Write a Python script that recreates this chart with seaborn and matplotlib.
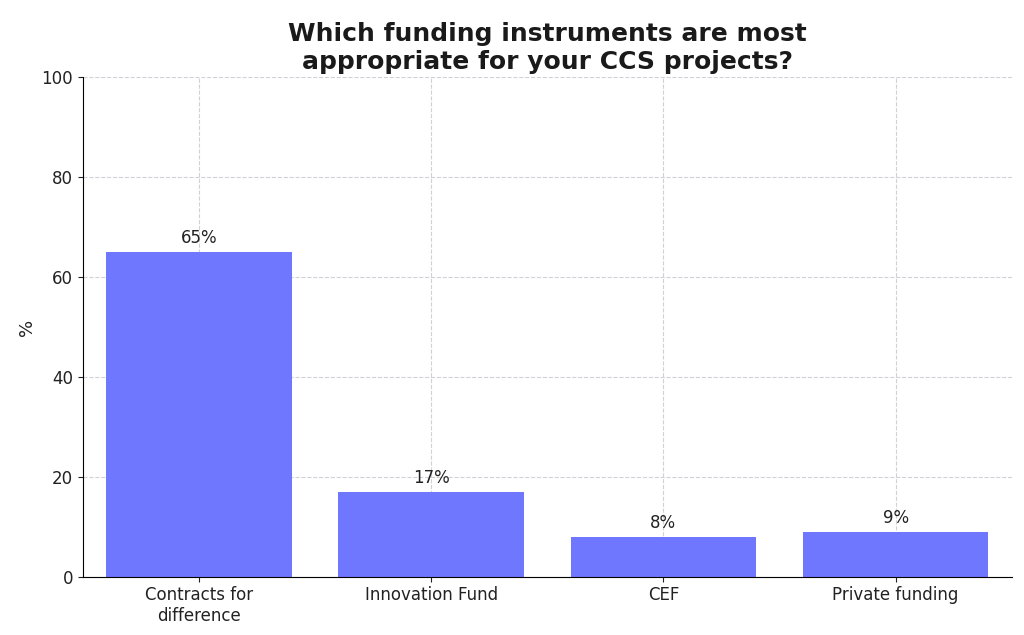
import matplotlib
matplotlib.use("Agg")
import matplotlib.pyplot as plt
import seaborn as sns
import pandas as pd

# data
categories = ["Contracts for\ndifference", "Innovation Fund", "CEF", "Private funding"]
values = [65, 17, 8, 9]
labels = ["65%", "17%", "8%", "9%"]

df = pd.DataFrame({"category": categories, "value": values})

fig = plt.figure(figsize=(10.24, 6.35), dpi=100)
ax = fig.add_axes([0.081, 0.092, 0.907, 0.786])

sns.barplot(data=df, x="category", y="value", color="#7077FF", saturation=1,
            width=0.8, ax=ax, zorder=2)

for p, lab in zip(ax.patches, labels):
    ax.text(p.get_x() + p.get_width() / 2, p.get_height() + 1, lab,
            ha="center", va="bottom", fontsize=12, color="#222222")

ax.set_ylim(0, 100)
ax.set_yticks([0, 20, 40, 60, 80, 100])
ax.set_xlabel("")
ax.set_ylabel("%", fontsize=13, color="#222222")
ax.set_title("Which funding instruments are most\nappropriate for your CCS projects?",
             fontsize=18, fontweight="bold", color="#1a1a1a", pad=6)
ax.tick_params(labelsize=12, colors="#222222")
ax.grid(True, linestyle="--", color="#d0d0d8", linewidth=0.8, zorder=0)
ax.set_axisbelow(True)
for s in ["top", "right"]:
    ax.spines[s].set_visible(False)

fig.savefig("out.png", dpi=100)
